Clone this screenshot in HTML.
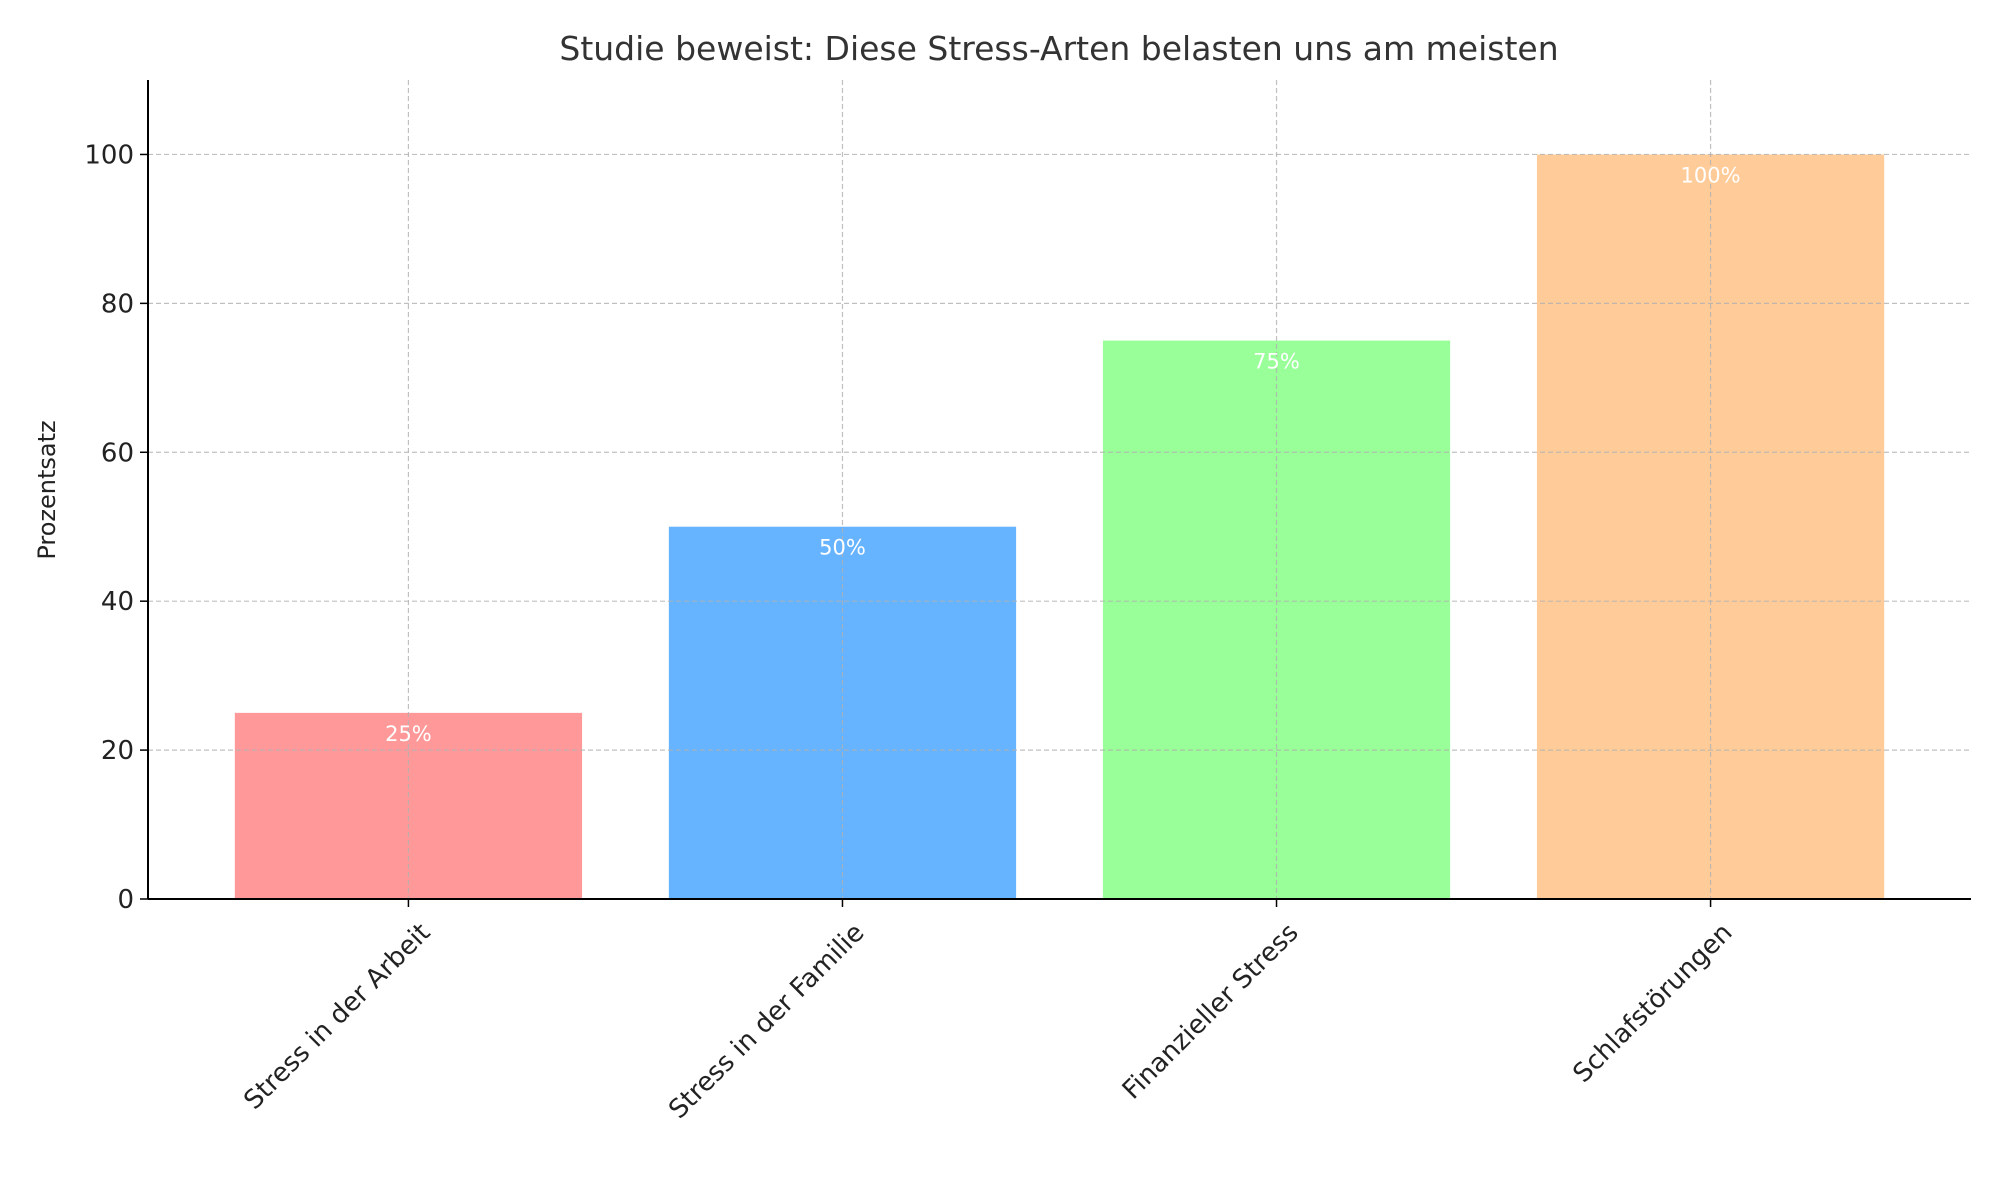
<!DOCTYPE html>
<html><head><meta charset="utf-8"><style>
html,body{margin:0;padding:0;background:#fff}
svg{display:block;font-family:"DejaVu Sans","Liberation Sans",sans-serif}
</style></head><body>
<svg id="chart" width="2000" height="1200" viewBox="0 0 2000 1200" xmlns="http://www.w3.org/2000/svg">
<rect width="2000" height="1200" fill="#fff"/>
<text x="1059" y="60" font-size="33" text-anchor="middle" fill="#333">Studie beweist: Diese Stress-Arten belasten uns am meisten</text>
<text transform="translate(55,490) rotate(-90)" font-size="24" text-anchor="middle" fill="#222">Prozentsatz</text>
<g id="bars"></g><g id="grid"></g><g id="labels"></g><g id="axes"></g>
</svg>
<script>
const categories = ["Stress in der Arbeit","Stress in der Familie","Finanzieller Stress","Schlafstörungen"];
const values = [25,50,75,100];
const valueLabels = ["25%","50%","75%","100%"];
const yTicks = [0,20,40,60,80,100];
const colors = ["#ff9999","#66b3ff","#99ff99","#ffcc99"];

const L=148,R=1971,T=80,B=899,yMax=110,xMin=-0.6,xMax=3.6;
const xs=i=>L+(i-xMin)/(xMax-xMin)*(R-L);
const ys=v=>B-v/yMax*(B-T);
const ns="http://www.w3.org/2000/svg";
function mk(tag,attrs,parent,text){const e=document.createElementNS(ns,tag);for(const k in attrs)e.setAttribute(k,attrs[k]);if(text!==undefined)e.textContent=text;document.getElementById(parent).appendChild(e);return e;}
const bw=0.8*(R-L)/(xMax-xMin);
categories.forEach((c,i)=>{
  const r=mk('rect',{x:xs(i)-bw/2,y:ys(values[i]),width:bw,height:B-ys(values[i]),fill:colors[i]},'bars');
  
  
  const t=mk('text',{x:xs(i),y:ys(values[i])+28,'font-size':21,'text-anchor':'middle',fill:'#fff'},'labels',valueLabels[i]);
  
  
  const g=mk('line',{x1:xs(i),x2:xs(i),y1:T,y2:B,stroke:'#b0b0b0','stroke-width':1.2,'stroke-dasharray':'5,3','stroke-opacity':0.8},'grid');
  
  
  const tk=mk('line',{x1:xs(i),x2:xs(i),y1:B,y2:B+8,stroke:'#000','stroke-width':1.5},'axes');
  
  
  const xl=mk('text',{transform:`translate(${xs(i)+10},${B+22}) rotate(-45)`,'font-size':26,'text-anchor':'end','dominant-baseline':'hanging',fill:'#222'},'axes',c);
  
  
});
yTicks.forEach(v=>{
  if(v>0){const g=mk('line',{x1:L,x2:R,y1:ys(v),y2:ys(v),stroke:'#b0b0b0','stroke-width':1.2,'stroke-dasharray':'5,3','stroke-opacity':0.8},'grid');
  
  }
  const tk=mk('line',{x1:L-8,x2:L,y1:ys(v),y2:ys(v),stroke:'#000','stroke-width':1.5},'axes');
  
  
  const t=mk('text',{x:L-14,y:ys(v)+9,'font-size':26,'text-anchor':'end',fill:'#222'},'axes',String(v));
  
  
});
const ya=mk('line',{x1:L,x2:L,y1:T,y2:B,stroke:'#000','stroke-width':2},'axes');


const xa=mk('line',{x1:L,x2:R,y1:B,y2:B,stroke:'#000','stroke-width':2},'axes');


</script>
</body></html>
